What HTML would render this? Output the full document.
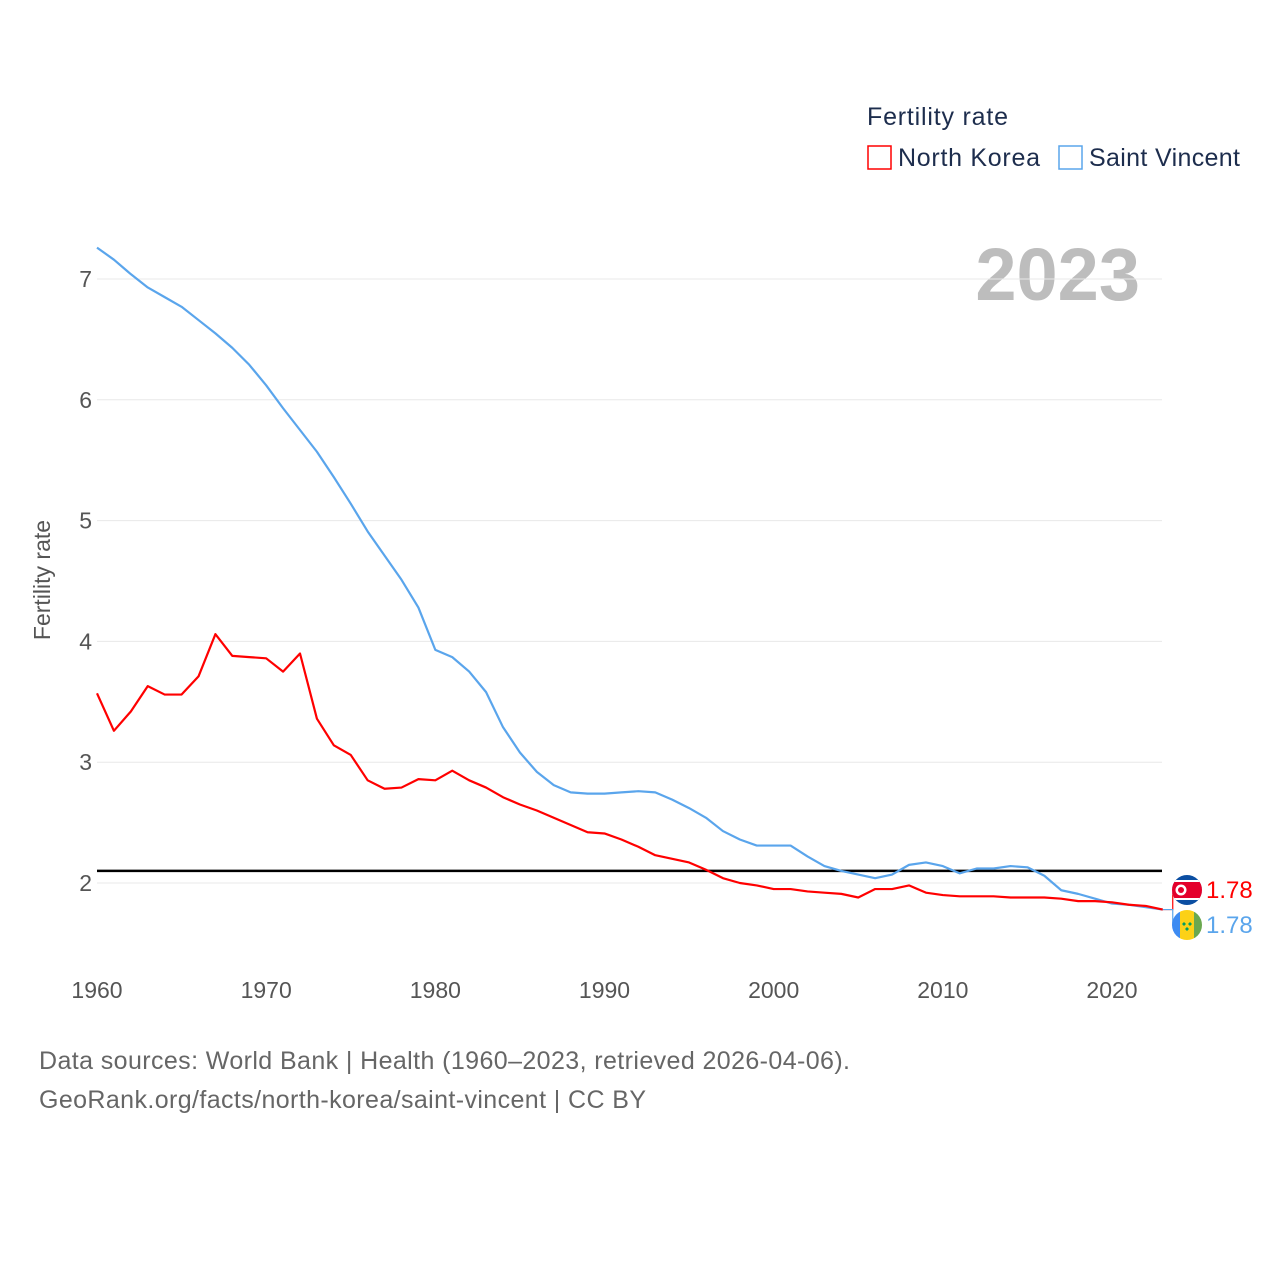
<!DOCTYPE html>
<html><head><meta charset="utf-8"><style>
body{margin:0;background:#fff;font-family:"Liberation Sans",sans-serif}
svg{display:block}
</style></head><body>
<svg id="chart" width="1280" height="1280">
<text x="867" y="125" font-size="25" fill="#1d2d4d" textLength="141">Fertility rate</text>
<g><rect x="868" y="146" width="23" height="23" fill="none" stroke="#f00" stroke-width="1.5"/><text x="898" y="166" font-size="25" fill="#1d2d4d" textLength="142">North Korea</text></g>
<g><rect x="1059" y="146" width="23" height="23" fill="none" stroke="#5aa5ec" stroke-width="1.5"/><text x="1089" y="166" font-size="25" fill="#1d2d4d" textLength="151">Saint Vincent</text></g>
<text x="1140" y="300" font-size="74" font-weight="bold" fill="#bdbdbd" text-anchor="end">2023</text>
<text transform="translate(50,580) rotate(-90)" font-size="23" fill="#555" text-anchor="middle">Fertility rate</text>
<g id="grid"></g><g id="xt"></g><g id="lines"></g><g id="ends"></g>
<text x="39" y="1069" font-size="25" fill="#666" textLength="811">Data sources: World Bank | Health (1960–2023, retrieved 2026-04-06).</text>
<text x="39" y="1108" font-size="25" fill="#666" textLength="607">GeoRank.org/facts/north-korea/saint-vincent | CC BY</text>
</svg>
<script>
const years=[];for(let y=1960;y<=2023;y++)years.push(y);
const northKorea=[3.57,3.26,3.42,3.63,3.56,3.56,3.71,4.06,3.88,3.87,3.86,3.75,3.90,3.36,3.14,3.06,2.85,2.78,2.79,2.86,2.85,2.93,2.85,2.79,2.71,2.65,2.60,2.54,2.48,2.42,2.41,2.36,2.30,2.23,2.20,2.17,2.11,2.04,2.00,1.98,1.95,1.95,1.93,1.92,1.91,1.88,1.95,1.95,1.98,1.92,1.90,1.89,1.89,1.89,1.88,1.88,1.88,1.87,1.85,1.85,1.84,1.82,1.81,1.78];
const saintVincent=[7.26,7.16,7.04,6.93,6.85,6.77,6.66,6.55,6.43,6.29,6.12,5.93,5.75,5.57,5.36,5.14,4.91,4.71,4.51,4.28,3.93,3.87,3.75,3.58,3.29,3.08,2.92,2.81,2.75,2.74,2.74,2.75,2.76,2.75,2.69,2.62,2.54,2.43,2.36,2.31,2.31,2.31,2.22,2.14,2.10,2.07,2.04,2.07,2.15,2.17,2.14,2.08,2.12,2.12,2.14,2.13,2.06,1.94,1.91,1.87,1.83,1.82,1.80,1.78];
const yTicks=[2,3,4,5,6,7];
const xTicks=[1960,1970,1980,1990,2000,2010,2020];
const replacement=2.1;
const X=y=>97+(y-1960)*(1015/60);
const Y=v=>883-(v-2)*120.8;
const NS="http://www.w3.org/2000/svg";
function mk(tag,attrs,parent){const e=document.createElementNS(NS,tag);for(const k in attrs)e.setAttribute(k,attrs[k]);parent.appendChild(e);return e;}
const grid=document.getElementById('grid');
yTicks.forEach(t=>{
const l=mk('line',{x1:97,x2:1162,y1:Y(t),y2:Y(t),stroke:'#e8e8e8','stroke-width':1},grid);


const tx=mk('text',{x:92,y:Y(t)+8,'font-size':23,fill:'#555','text-anchor':'end'},grid);tx.textContent=t;


});
const xt=document.getElementById('xt');
xTicks.forEach(t=>{
const tx=mk('text',{x:X(t),y:998,'font-size':23,fill:'#555','text-anchor':'middle'},xt);tx.textContent=t;


});
const lines=document.getElementById('lines');
const rl=mk('line',{x1:97,x2:1162,y1:Y(replacement),y2:Y(replacement),stroke:'#000','stroke-width':2.5},lines);


[[saintVincent,'#5aa5ec','saint-vincent-line'],[northKorea,'#f00','north-korea-line']].forEach(([d,c,n])=>{
const p=mk('polyline',{points:d.map((v,i)=>X(years[i])+','+Y(v)).join(' '),fill:'none',stroke:c,'stroke-width':2.2,'stroke-linejoin':'round'},lines);


});
const ends=document.getElementById('ends');
const ex=X(2023);
const nkY=Y(northKorea[63]),svY=Y(saintVincent[63]);
mk('polyline',{points:`${ex},${nkY} ${ex+10},${nkY} ${ex+10},890 1172,890`,fill:'none',stroke:'#f00','stroke-width':1.2},ends);
mk('polyline',{points:`${ex},${svY} ${ex+10},${svY} ${ex+10},925 1172,925`,fill:'none',stroke:'#5aa5ec','stroke-width':1.2},ends);
const f1=mk('g',{},ends);


const cp1=mk('clipPath',{id:'c1'},f1);mk('circle',{cx:1187,cy:890,r:15},cp1);
const g1=mk('g',{'clip-path':'url(#c1)'},f1);
mk('rect',{x:1170,y:874,width:34,height:34,fill:'#0b4ea2'},g1);
mk('rect',{x:1170,y:880,width:34,height:20,fill:'#fff'},g1);
mk('rect',{x:1170,y:882,width:34,height:16,fill:'#e4002b'},g1);
mk('circle',{cx:1181,cy:890,r:5.5,fill:'#fff'},g1);
mk('circle',{cx:1181,cy:890,r:3,fill:'#e4002b'},g1);
const f2=mk('g',{},ends);


const cp2=mk('clipPath',{id:'c2'},f2);mk('circle',{cx:1187,cy:925,r:15},cp2);
const g2=mk('g',{'clip-path':'url(#c2)'},f2);
mk('rect',{x:1170,y:908,width:10,height:34,fill:'#3d8bf2'},g2);
mk('rect',{x:1180,y:908,width:14,height:34,fill:'#fcd116'},g2);
mk('rect',{x:1194,y:908,width:12,height:34,fill:'#6aa84f'},g2);
mk('path',{d:'M1184,922 l2,2 -2,2 -2,-2z M1190,922 l2,2 -2,2 -2,-2z M1187,927 l2,2 -2,2 -2,-2z',fill:'#009e60'},g2);
const l1=mk('text',{x:1206,y:898,'font-size':24,fill:'#f00'},ends);l1.textContent=northKorea[63].toFixed(2);


const l2=mk('text',{x:1206,y:933,'font-size':24,fill:'#5aa5ec'},ends);l2.textContent=saintVincent[63].toFixed(2);


</script>
</body></html>
